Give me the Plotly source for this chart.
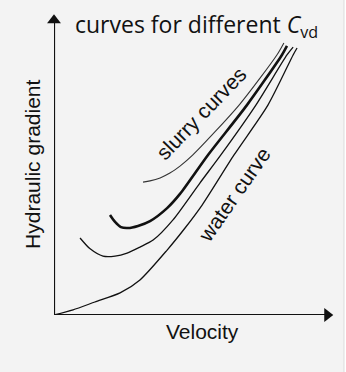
import plotly.graph_objects as go

# Data (arbitrary units: velocity on x, hydraulic gradient on y)
water_x = [0, 0.68, 1.46, 2.36, 3.07, 4.04, 4.68, 5.29, 6.43, 7.64, 8.54, 8.68]
water_y = [0, 0.17, 0.43, 0.73, 1.16, 2.15, 2.88, 3.64, 5.30, 6.95, 8.61, 8.84]

slurry_low_x = [0.93, 1.29, 1.75, 2.18, 2.61, 3.07, 3.54, 4.25, 5.21, 5.96, 7.21, 8.32, 8.54]
slurry_low_y = [2.55, 2.19, 1.95, 1.95, 2.05, 2.25, 2.48, 3.15, 4.37, 5.30, 6.95, 8.61, 8.87]

slurry_mid_x = [2.0, 2.18, 2.39, 2.64, 3.0, 3.43, 4.04, 4.5, 5.5, 6.89, 8.14, 8.32]
slurry_mid_y = [3.31, 3.08, 2.91, 2.88, 2.95, 3.11, 3.54, 4.01, 5.30, 6.95, 8.61, 8.91]

slurry_high_x = [3.18, 3.43, 3.79, 4.14, 4.5, 4.96, 6.61, 7.96, 8.21]
slurry_high_y = [4.40, 4.44, 4.54, 4.70, 4.93, 5.30, 6.95, 8.61, 9.01]

axis_max = 10
title_text = "curves for different <i>C</i><sub>vd</sub>"
x_label = "Velocity"
y_label = "Hydraulic gradient"
slurry_label = "slurry curves"
water_label = "water curve"

ink = "#111111"
fig = go.Figure()

def add_curve(x, y, width, color):
    fig.add_trace(go.Scatter(x=x, y=y, mode="lines",
                             line=dict(color=color, width=width, shape="spline", smoothing=0.7),
                             hoverinfo="skip", showlegend=False))

add_curve(water_x, water_y, 1.3, ink)
add_curve(slurry_low_x, slurry_low_y, 1.3, ink)
add_curve(slurry_mid_x, slurry_mid_y, 2.6, ink)
add_curve(slurry_high_x, slurry_high_y, 1.1, "#333333")

# axis lines with arrowheads
fig.add_trace(go.Scatter(x=[0, axis_max * 0.975], y=[0, 0], mode="lines",
                         line=dict(color=ink, width=2.2), hoverinfo="skip",
                         showlegend=False, cliponaxis=False))
fig.add_trace(go.Scatter(x=[0, 0], y=[0, axis_max * 0.975], mode="lines",
                         line=dict(color=ink, width=2.2), hoverinfo="skip",
                         showlegend=False, cliponaxis=False))
fig.add_trace(go.Scatter(x=[axis_max * 0.976], y=[0], mode="markers",
                         marker=dict(symbol="triangle-right", size=12, color=ink),
                         hoverinfo="skip", showlegend=False, cliponaxis=False))
fig.add_trace(go.Scatter(x=[0], y=[axis_max * 0.976], mode="markers",
                         marker=dict(symbol="triangle-up", size=12, color=ink),
                         hoverinfo="skip", showlegend=False, cliponaxis=False))

label_font = dict(family="Liberation Sans, Arial, sans-serif", size=21, color=ink)

annotations = [
    dict(x=5.1, y=9.6, xref="x", yref="y", text=title_text, showarrow=False,
         xanchor="center", yanchor="middle",
         font=dict(family="Open Sans, Noto Sans, sans-serif", size=23, color=ink)),
    dict(x=0.5286, y=-0.053, xref="paper", yref="paper", text=x_label, showarrow=False,
         xanchor="center", yanchor="middle", font=label_font),
    dict(x=-0.075, y=0.497, xref="paper", yref="paper", text=y_label, showarrow=False,
         textangle=-90, xanchor="center", yanchor="middle", font=label_font),
    dict(x=5.25, y=6.66, xref="x", yref="y", text=slurry_label, showarrow=False,
         textangle=-46, xanchor="center", yanchor="middle", font=label_font),
    dict(x=6.43, y=4.0, xref="x", yref="y", text=water_label, showarrow=False,
         textangle=-55, xanchor="center", yanchor="middle", font=label_font),
]

shapes = [
    dict(type="rect", xref="paper", yref="paper", x0=1.0357, x1=1.1, y0=-0.5, y1=1.5,
         fillcolor="white", line=dict(width=0), layer="below"),
    dict(type="line", xref="paper", yref="paper", x0=1.0357, x1=1.0357, y0=-0.5, y1=1.5,
         line=dict(color="#dddddd", width=1), layer="below"),
]

fig.update_layout(
    width=346, height=372,
    margin=dict(l=54, r=12, t=13, b=57, autoexpand=False),
    paper_bgcolor="#f3f3f3", plot_bgcolor="rgba(0,0,0,0)",
    xaxis=dict(range=[0, axis_max], visible=False, fixedrange=True),
    yaxis=dict(range=[0, axis_max], visible=False, fixedrange=True),
    annotations=annotations, shapes=shapes,
    showlegend=False,
)

fig.write_html("out.html", config=dict(displayModeBar=False),
               post_script="document.body.style.margin='0';document.body.style.overflow='hidden';")
